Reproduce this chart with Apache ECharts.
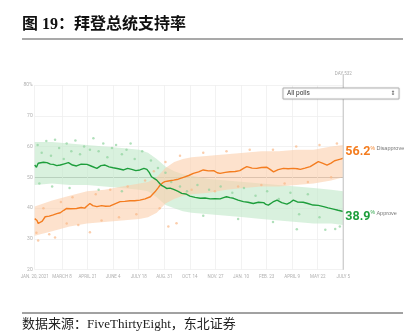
<!DOCTYPE html>
<html><head><meta charset="utf-8">
<script src="https://cdn.jsdelivr.net/npm/echarts@6/dist/echarts.min.js"></script>
<style>html,body{margin:0;padding:0;background:#fff}#c{width:416px;height:335px}</style>
</head><body><div id="c"></div>
<script>
// ---- data ----
const tickDays = [0,47,91,135,179,223,267,311,355,399,443,487,531];
const tickLabels = ['JAN. 20, 2021','MARCH 8','APRIL 21','JUNE 4','JULY 18','AUG. 31','OCT. 14','NOV. 27','JAN. 10','FEB. 23','APRIL 9','MAY 22','JULY 5'];
const approveDays = [0,3,6,9,15,21,27,32,38,44,51,58,65,72,80,90,98,107,114,121,128,135,144,153,160,167,174,181,188,193,197,201,206,210,215,219,223,227,233,239,246,253,260,267,276,285,293,302,310,319,325,330,336,342,350,359,367,376,385,394,398,402,410,417,425,434,440,445,452,462,470,479,488,497,505,514,522,531];
const approveVals = [54.0,53.3,54.6,54.5,54.9,54.8,54.3,54.2,53.8,54.0,54.4,54.8,54.0,53.7,54.3,54.2,53.6,52.9,53.8,54.0,53.4,53.1,52.8,52.4,52.9,52.6,52.2,52.4,52.9,52.6,51.6,50.2,49.6,49.1,48.0,47.3,46.9,46.4,46.5,46.1,45.5,44.8,44.6,43.9,43.5,43.2,43.3,43.0,43.1,43.0,43.4,43.7,43.4,43.2,42.6,42.1,41.9,41.5,41.9,41.8,41.2,41.0,42.0,42.6,41.8,41.3,41.9,42.6,42.0,41.9,41.5,41.0,40.9,40.5,40.1,39.7,39.3,38.9];
const disapproveDays = [0,2,4,6,9,13,18,25,32,38,44,50,55,62,72,80,86,90,95,100,107,115,122,130,138,147,155,164,172,181,190,199,203,207,212,216,220,224,230,239,247,256,265,273,282,290,299,308,314,319,328,336,345,353,360,365,374,382,390,399,405,411,419,428,436,445,452,457,465,474,481,488,495,503,510,516,520,526,531];
const disapproveVals = [36.6,37.2,36.0,35.0,34.5,35.8,37.2,37.4,37.8,38.2,38.5,39.3,39.9,39.8,39.9,40.2,40.0,40.7,41.5,40.8,40.5,40.8,40.6,40.7,41.4,42.1,42.2,42.4,42.4,42.6,43.0,43.7,44.5,45.3,46.5,47.5,48.2,48.6,48.8,49.1,49.4,50.0,50.6,51.3,51.8,52.4,52.1,52.2,51.5,51.3,51.6,51.8,51.9,52.2,53.0,53.5,53.0,52.9,53.2,53.3,52.6,51.8,52.5,52.9,52.8,52.9,52.8,52.6,53.0,53.5,54.3,55.1,54.6,54.0,54.6,55.4,55.6,55.9,56.2];
const bandDays = [0,30,60,90,120,150,180,195,210,225,240,255,270,300,330,360,390,420,450,480,510,531];
const approveUpper = [61.5,61.5,61,60.5,60,59.5,59,58,56,53.5,52,51,50.5,49.5,49,48.5,48,47.5,47,46.5,46,45.5];
const approveLower = [47.5,48,47.5,47.5,47,46.5,46,45.5,43.5,41,40,39,38.5,38,37.5,37,36.5,36,35.5,35,35,34.5];
const disapproveUpper = [40.5,42.5,44,45.5,46,47,48,48.5,50,53,55,56,56.5,57,57.5,58,58.5,58.5,59,59,60,60.5];
const disapproveLower = [31,32.5,34,35,35.5,36,36.5,37,38.5,41.5,43,44,44.5,45,46,46.5,47,47,47.5,48,49,50];
const approvePolls = [[5,60.5],[12,58],[20,61.8],[28,57],[35,62.2],[42,59.5],[50,56],[55,61],[63,58.5],[70,62],[78,57.5],[85,60],[95,59],[101,62.7],[110,58.5],[118,61],[125,56.5],[133,59.5],[140,60.5],[150,57.5],[158,59],[165,61],[172,56],[185,58.5],[200,55.5],[212,53],[225,51.5],[235,48.5],[250,47],[262,45.5],[280,47.5],[300,46],[320,47],[340,45],[360,46.5],[380,44],[400,45.5],[420,43],[440,45],[455,38],[470,44.5],[490,37],[451,33.1],[500,33],[517,33.2],[525,34],[8,48],[30,47],[60,46.5],[110,46],[150,45.5],[290,37.5],[350,36.5],[410,35.5]];
const disapprovePolls = [[3,32],[6,29.5],[15,40],[25,31.5],[35,30.5],[45,42],[55,35],[65,43.5],[75,34.5],[95,32.2],[105,44.5],[115,36],[130,46],[145,37],[160,47],[175,38],[190,49],[205,52],[215,40],[230,34],[244,35.1],[225,55],[250,57],[270,46],[290,58],[310,45.5],[330,58.5],[350,47],[370,59],[390,47.5],[410,59],[430,48],[450,60],[470,48.5],[490,60.5],[510,50],[520,61]];
const dayLabel = 'DAY 532';

// ---- build ----
const ORANGE = '#f47d20', GREEN = '#1e9e3c';
const zip = (xs, ys) => xs.map((x, i) => [x, ys[i]]);
const bandSeries = (up, lo, fill) => ({
  type: 'custom', silent: true, z: 1, clip: true,
  data: [[bandDays[0], up[0]]],
  renderItem: (params, api) => {
    const upper = bandDays.map((d, i) => api.coord([d, up[i]]));
    const lower = bandDays.map((d, i) => api.coord([d, lo[i]])).reverse();
    return {type: 'polygon', shape: {points: upper.concat(lower)}, style: {fill: fill, opacity: 0.6}};
  }
});
const chart = echarts.init(document.getElementById('c'), null, {renderer: 'canvas'});
const option = {
  animation: false,
  grid: {left: 34.7, right: 72.7, top: 85, bottom: 65.3, containLabel: false},
  xAxis: {
    type: 'value', min: 0, max: 531,
    axisLine: {show: false},
    axisTick: {show: false, customValues: tickDays},
    axisLabel: {customValues: tickDays, formatter: v => tickLabels[tickDays.indexOf(v)] || '', fontSize: 4.5, color: '#b0b0b0', margin: 5, fontFamily: 'Roboto'},
    splitLine: {show: true, lineStyle: {color: '#efefef', width: 0.8}}
  },
  yAxis: {
    type: 'value', min: 20, max: 80, interval: 10,
    axisLine: {show: false}, axisTick: {show: false},
    axisLabel: {formatter: v => v === 80 ? '80%' : String(v), fontSize: 5, color: '#b0b0b0', margin: 2, fontFamily: 'Roboto'},
    splitLine: {lineStyle: {color: ['#efefef','#efefef','#efefef','#9a9a9a','#efefef','#efefef','#efefef'], width: 0.8}}
  },
  series: [
    bandSeries(approveUpper, approveLower, '#bfe7c8'),
    bandSeries(disapproveUpper, disapproveLower, '#fccfac'),
    {type: 'scatter', data: approvePolls, symbolSize: 2.5, itemStyle: {color: '#8fd39d', opacity: 0.7}, z: 2},
    {type: 'scatter', data: disapprovePolls, symbolSize: 2.5, itemStyle: {color: '#f9b888', opacity: 0.7}, z: 2},
    {type: 'line', name: 'Disapprove', data: zip(disapproveDays, disapproveVals), symbol: 'none', lineStyle: {color: ORANGE, width: 1.4}, z: 3,
      endLabel: {show: true, distance: 2, offset: [0, -6],
        formatter: p => '{v|' + p.value[1].toFixed(1) + '}{p|%}{n| Disapprove}',
        rich: {v: {fontSize: 12.5, fontWeight: 'bold', color: ORANGE, fontFamily: 'Roboto'},
               p: {fontSize: 5, color: ORANGE, verticalAlign: 'top'},
               n: {fontSize: 5.5, color: '#777', verticalAlign: 'top'}}}},
    {type: 'line', name: 'Approve', data: zip(approveDays, approveVals), symbol: 'none', lineStyle: {color: GREEN, width: 1.4}, z: 3,
      endLabel: {show: true, distance: 2, offset: [0, 5],
        formatter: p => '{v|' + p.value[1].toFixed(1) + '}{p|%}{n| Approve}',
        rich: {v: {fontSize: 12.5, fontWeight: 'bold', color: GREEN, fontFamily: 'Roboto'},
               p: {fontSize: 5, color: GREEN, verticalAlign: 'top'},
               n: {fontSize: 5.5, color: '#777', verticalAlign: 'top'}}}}
  ]
};
chart.setOption(option);

const pTop = chart.convertToPixel({gridIndex: 0}, [531, 80]);
const pBot = chart.convertToPixel({gridIndex: 0}, [531, 20]);
chart.setOption({
  graphic: [
    {type: 'text', left: 22, top: 17, style: {text: '图 19：拜登总统支持率', font: 'bold 16px "Liberation Serif", "Noto Sans CJK SC"', fill: '#111'}},
    {type: 'line', shape: {x1: 22, y1: 39, x2: 403, y2: 39}, style: {stroke: '#8c8c8c', lineWidth: 1.6}},
    {type: 'line', shape: {x1: pTop[0], y1: pTop[1] - 11, x2: pBot[0], y2: pBot[1]}, style: {stroke: '#d0d0d0', lineWidth: 1.4}, z: 5},
    {type: 'text', x: pTop[0], y: pTop[1] - 9, style: {text: dayLabel, font: '4.5px Roboto', fill: '#aaa', align: 'center', verticalAlign: 'bottom'}},
    {type: 'rect', shape: {x: 283, y: 88, width: 116, height: 11}, style: {fill: '#fff', stroke: '#a8a8a8', lineWidth: 0.8, shadowBlur: 2, shadowColor: 'rgba(0,0,0,0.15)'}, z: 10},
    {type: 'text', x: 287, y: 93.7, style: {text: 'All polls', font: '6.5px Roboto', fill: '#333', verticalAlign: 'middle'}, z: 11},
    {type: 'text', x: 393, y: 93.7, style: {text: '⇕', font: '6px "DejaVu Sans"', fill: '#555', align: 'center', verticalAlign: 'middle'}, z: 11},
    {type: 'line', shape: {x1: 22, y1: 313, x2: 403, y2: 313}, style: {stroke: '#444', lineWidth: 1}},
    {type: 'text', left: 22, top: 318, style: {text: '数据来源：FiveThirtyEight，东北证券', font: '13px "Liberation Serif", "Noto Sans CJK SC"', fill: '#222'}}
  ]
});
</script></body></html>
